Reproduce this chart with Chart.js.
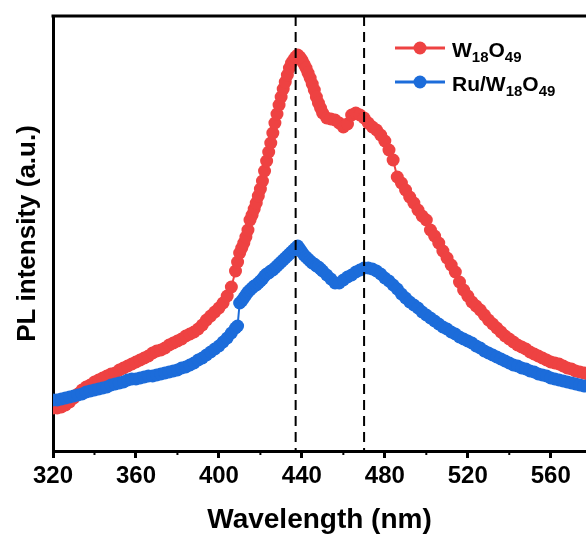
<!DOCTYPE html>
<html>
<head>
<meta charset="utf-8">
<script src="https://cdn.jsdelivr.net/npm/chart.js@4"></script>
<style>
body { margin: 0; background: #fff; }
</style>
</head>
<body>
<canvas id="myChart" width="586" height="538"></canvas>
<script>
// wavelength (nm), shared by both spectra (1 nm steps around the steep main peak)
const wavelength = [320,322,324,326,328,330,332,334,336,338,340,342,344,346,348,350,352,354,356,358,
  360,362,364,366,368,370,372,374,376,378,380,382,384,386,388,390,392,394,396,398,400,402,404,406,408,409,
  410,411,412,413,414,415,416,417,418,419,420,421,422,423,424,425,426,427,428,429,
  430,431,432,433,434,435,436,437,438,439,440,441,442,443,444,445,446,447,448,449,450,
  452,454,456,458,460,462,464,466,468,470,472,474,476,478,480,482,484,486,488,490,492,494,496,498,
  500,502,504,506,508,510,512,514,516,518,520,522,524,526,528,530,532,534,536,538,
  540,542,544,546,548,550,552,554,556,558,560,562,564,566,568,570,572,574,576,578];

// PL intensity (a.u.)
const w18o49 = [43,43,44,46,49,53,57,61,64,66,69,71,73,75,77,78,81,83,85,87,
  89,91,93,95,98,100,101,103,106,108,110,112,115,117,119,122,126,131,135,139,143,148,155,164,180,189,
  198,203,208,214,221,231,236,242,248,255,262,270,280,290,299,308,318,328,337,346,
  354,362,369,376,383,388,391,394,396,394,391,387,383,378,373,367,361,354,348,343,338,
  333,332,331,328,324,327,336,338,336,333,328,324,321,316,310,301,291,274,268,261,254,248,241,235,
  231,221,215,208,200,193,186,179,169,161,155,149,145,141,136,131,127,123,119,115,
  112,109,106,104,102,99,97,95,93,91,89,88,87,85,83,82,80,79,78,77];

const ruW18o49 = [51,51,52,53,54,55,56,57,59,60,61,62,63,64,66,67,68,69,71,72,
  72,73,74,75,75,76,77,78,79,80,81,83,84,86,88,91,93,96,99,102,105,109,113,118,123,125,
  148,150,153,156,159,161,163,165,166,168,170,172,175,177,178,180,181,183,185,187,
  189,191,193,195,197,199,201,203,205,202,199,196,194,192,190,188,187,185,184,182,180,
  176,172,168,168,171,174,176,179,181,183,183,182,180,177,173,170,166,162,157,153,149,146,143,139,
  136,133,130,127,124,122,119,117,114,112,110,108,105,103,100,98,96,94,92,90,
  88,86,85,83,82,80,79,77,76,75,73,72,71,70,69,68,67,66,65,65];

const seriesLabels = ['W18O49', 'Ru/W18O49'];
const xTicks = [320,360,400,440,480,520,560];
const minorTicks = [340,380,420,460,500,540];
const peakLines = [437,470];

const FONT = '"Liberation Sans", Arial, sans-serif';
const RED = 'rgb(238,66,66)';
const BLUE = 'rgb(28,108,218)';

function points(ys) {
  return wavelength.map(function(w, i) { return {x: w, y: ys[i]}; });
}

// chemical formula with subscript digits
function drawChem(ctx, text, x, y) {
  text.match(/\d+|\D+/g).forEach(function(p) {
    const sub = /\d/.test(p);
    ctx.font = 'bold ' + (sub ? 15 : 21) + 'px ' + FONT;
    ctx.fillText(p, x, sub ? y + 5 : y);
    x += ctx.measureText(p).width;
  });
}

const extras = {
  id: 'extras',
  afterDatasetsDraw: function(chart) {
    const ctx = chart.ctx;
    const area = chart.chartArea;
    const xs = chart.scales.x;
    ctx.save();
    // dashed peak markers
    ctx.strokeStyle = '#000';
    ctx.lineWidth = 2;
    ctx.setLineDash([10, 6]);
    peakLines.forEach(function(v) {
      const px = xs.getPixelForValue(v);
      ctx.beginPath();
      ctx.moveTo(px, area.top);
      ctx.lineTo(px, area.bottom);
      ctx.stroke();
    });
    ctx.setLineDash([]);
    // top frame
    ctx.lineWidth = 3;
    ctx.beginPath();
    ctx.moveTo(area.left - 1.5, area.top);
    ctx.lineTo(area.right, area.top);
    ctx.stroke();
    // minor ticks
    ctx.lineWidth = 2;
    minorTicks.forEach(function(v) {
      const px = xs.getPixelForValue(v);
      ctx.beginPath();
      ctx.moveTo(px, area.bottom);
      ctx.lineTo(px, area.bottom + 4);
      ctx.stroke();
    });
    // legend
    const colors = [RED, BLUE];
    seriesLabels.forEach(function(lbl, i) {
      const y = 48 + i * 34;
      ctx.strokeStyle = colors[i];
      ctx.fillStyle = colors[i];
      ctx.lineWidth = 3;
      ctx.beginPath();
      ctx.moveTo(395, y);
      ctx.lineTo(445, y);
      ctx.stroke();
      ctx.beginPath();
      ctx.arc(420, y, 6.5, 0, Math.PI * 2);
      ctx.fill();
      ctx.fillStyle = '#000';
      ctx.textBaseline = 'alphabetic';
      ctx.textAlign = 'left';
      drawChem(ctx, lbl, 452, y + 9);
    });
    ctx.restore();
  }
};

const data = {
  datasets: [{
    label: seriesLabels[0],
    data: points(w18o49),
    borderColor: RED,
    backgroundColor: RED,
    borderWidth: 2,
    pointRadius: 6.5,
    pointBorderWidth: 0,
    order: 1
  }, {
    label: seriesLabels[1],
    data: points(ruW18o49),
    borderColor: BLUE,
    backgroundColor: BLUE,
    borderWidth: 2,
    pointRadius: 6.5,
    pointBorderWidth: 0,
    order: 0
  }]
};

const config = {
  type: 'line',
  data: data,
  options: {
    responsive: false,
    animation: false,
    devicePixelRatio: 1,
    layout: { autoPadding: false, padding: { top: 16, right: 0, left: 0, bottom: 0 } },
    plugins: { legend: { display: false }, tooltip: { enabled: false } },
    scales: {
      x: {
        type: 'linear',
        min: 320,
        max: 577,
        afterBuildTicks: function(scale) {
          scale.ticks = xTicks.map(function(v) { return {value: v}; });
        },
        afterFit: function(scale) {
          scale.height = 87;
          scale.paddingLeft = 0;
          scale.paddingRight = 0;
        },
        ticks: {
          color: '#000',
          padding: 4,
          maxRotation: 0,
          font: { family: FONT, size: 24, weight: 'bold' }
        },
        grid: {
          drawOnChartArea: false,
          drawTicks: true,
          tickLength: 7,
          tickWidth: 3,
          tickColor: '#000'
        },
        border: { display: true, width: 3, color: '#000' },
        title: {
          display: true,
          text: 'Wavelength (nm)',
          color: '#000',
          padding: { top: 0, bottom: 1 },
          font: { family: FONT, size: 28, weight: 'bold' }
        }
      },
      y: {
        min: 0,
        max: 435,
        afterFit: function(scale) { scale.width = 53; },
        ticks: { display: false },
        grid: { display: false },
        border: { display: true, width: 3, color: '#000' },
        title: {
          display: true,
          text: 'PL intensity (a.u.)',
          color: '#000',
          padding: { top: 12, bottom: 0 },
          font: { family: FONT, size: 26, weight: 'bold' }
        }
      }
    }
  },
  plugins: [extras]
};

const myChart = new Chart(document.getElementById('myChart'), config);
</script>
</body>
</html>
